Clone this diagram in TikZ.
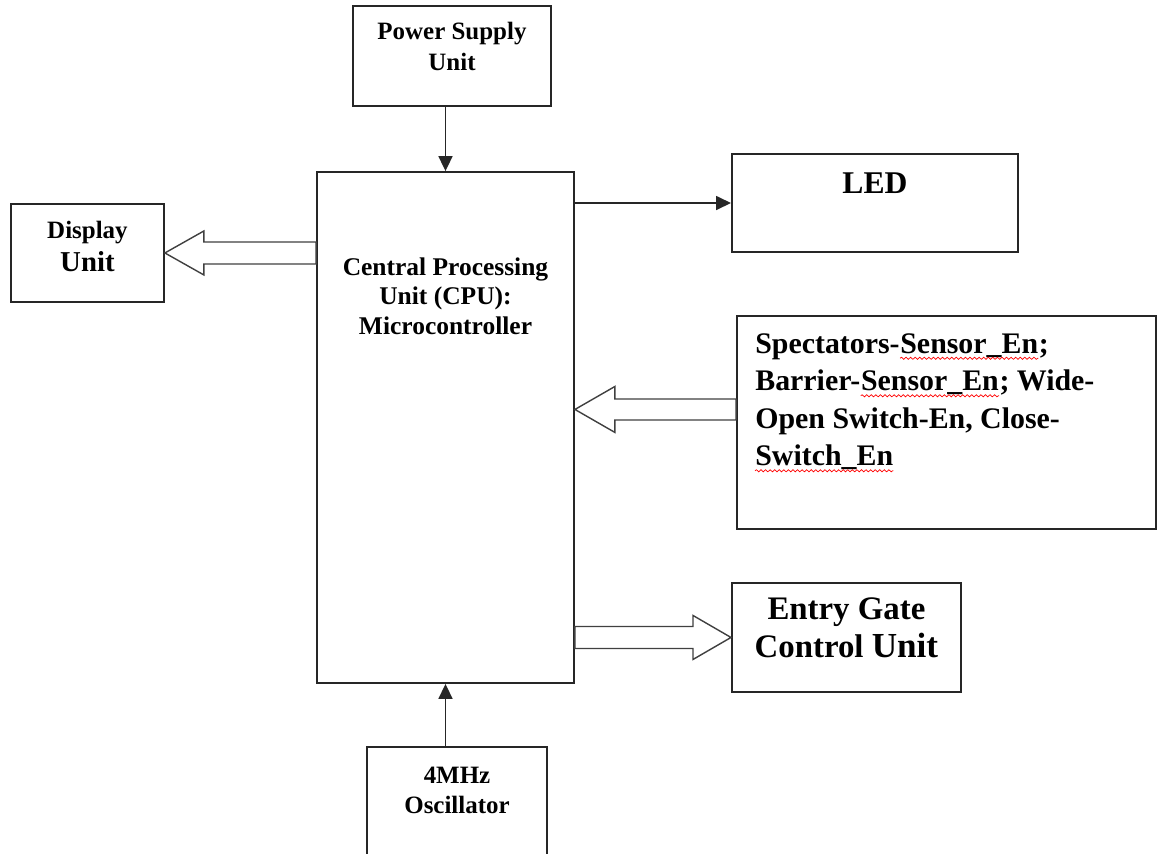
\documentclass[tikz,border=0pt]{standalone}
\usepackage{fontspec}
\setmainfont{Liberation Serif}
\usetikzlibrary{arrows.meta, positioning, calc, decorations.pathmorphing}

\begin{document}
\begin{tikzpicture}[
    x=0.02cm, y=-0.02cm,
    box/.style={rectangle, draw=black!85, line width=1.1pt, inner sep=0pt},
    boxtext/.style={inner sep=0pt, align=center, font=\bfseries\fontsize{14.2}{17.5}\selectfont},
    senstext/.style={inner sep=0pt, anchor=base west, font=\bfseries\fontsize{17}{21.5}\selectfont},
    spellwave/.style={red, line width=0.4pt, decorate, decoration={snake, amplitude=0.6pt, segment length=2.6pt}},
    arrow/.style={-{Triangle[length=0.3cm, width=0.28cm]}, line width=1pt, black!85},
    hollow/.style={draw=black!75, line width=0.8pt, fill=white}
]
    \useasboundingbox (0,0) rectangle (1157,853);

    % boxes
    \node[box, minimum width=5.14cm, minimum height=10.22cm] (cpu) at (445.5,427.5) {};
    \node[box, minimum width=3.96cm, minimum height=2cm, above=1.28cm of cpu, xshift=0.13cm] (power) {};
    \node[box, minimum width=3.6cm, minimum height=2.4cm, below=1.24cm of cpu, xshift=0.23cm] (osc) {};
    \node[box, minimum width=3.06cm, minimum height=1.96cm, anchor=north west] (disp) at (10,203) {};
    \node[box, minimum width=5.72cm, minimum height=1.96cm, anchor=north west] (led) at (731,153) {};
    \node[box, minimum width=8.38cm, minimum height=4.26cm, anchor=north west] (sens) at (736,315) {};
    \node[box, minimum width=4.58cm, minimum height=2.18cm, anchor=north west] (gate) at (731,582) {};

    % texts
    \node[boxtext, below=0.34cm of power.north] (power-text) {Power Supply\\Unit};
    \node[boxtext, font=\bfseries\fontsize{14.2}{18.7}\selectfont, below=0.36cm of disp.north] (disp-text)
        {Display\\{\fontsize{16.4}{18.7}\selectfont Unit}};
    \node[boxtext, font=\bfseries\fontsize{14.5}{17}\selectfont, below=1.72cm of cpu.north] (cpu-text)
        {Central Processing\\Unit (CPU):\\Microcontroller};
    \node[boxtext, font=\bfseries\fontsize{18}{21}\selectfont, below=0.38cm of led.north] (led-text) {LED};
    \node[boxtext, font=\bfseries\fontsize{18.7}{22}\selectfont, below=0.3cm of gate.north] (gate-text)
        {Entry Gate\\Control {\fontsize{20}{22}\selectfont Unit}};
    \node[boxtext, font=\bfseries\fontsize{14.2}{17}\selectfont, below=0.42cm of osc.north] (osc-text)
        {4MHz\\Oscillator};

    % sensor lines
    \node[senstext] (sens-l1a) at ($(sens.north west)+(19,38)$) {Spectators-};
    \node[senstext] (sens-l1b) at (sens-l1a.base east) {Sensor\_En};
    \node[senstext] (sens-l1c) at (sens-l1b.base east) {;};
    \node[senstext] (sens-l2a) at ($(sens-l1a.base west)+(0,37.5)$) {Barrier-};
    \node[senstext] (sens-l2b) at (sens-l2a.base east) {Sensor\_En};
    \node[senstext] (sens-l2c) at (sens-l2b.base east) {; Wide-};
    \node[senstext] (sens-l3) at ($(sens-l2a.base west)+(0,37.5)$) {Open Switch-En, Close-};
    \node[senstext] (sens-l4) at ($(sens-l3.base west)+(0,37.5)$) {Switch\_En};
    \draw[spellwave] ([yshift=-3pt]sens-l1b.base west) -- ([yshift=-3pt]sens-l1b.base east);
    \draw[spellwave] ([yshift=-3pt]sens-l2b.base west) -- ([yshift=-3pt]sens-l2b.base east);
    \draw[spellwave] ([yshift=-3pt]sens-l4.base west) -- ([yshift=-3pt]sens-l4.base east);

    % plain arrows
    \draw[arrow] (cpu.north |- power.south) -- (cpu.north);
    \draw[arrow] (cpu.south |- osc.north) -- (cpu.south);
    \draw[arrow] (cpu.east |- 0,203) -- (led.west |- 0,203);

    % hollow block arrows
    \coordinate (disp-tail) at (cpu.west |- disp.east);
    \draw[hollow] ($(disp-tail)+(0,-11)$) -- ($(disp.east)+(39,-11)$) -- ($(disp.east)+(39,-22)$)
        -- (disp.east) -- ($(disp.east)+(39,22)$) -- ($(disp.east)+(39,11)$) -- ($(disp-tail)+(0,11)$) -- cycle;

    \coordinate (sens-tail) at ([yshift=0.26cm]sens.west);
    \coordinate (sens-tip) at (cpu.east |- sens-tail);
    \draw[hollow] ($(sens-tail)+(0,-10.5)$) -- ($(sens-tip)+(40,-10.5)$) -- ($(sens-tip)+(40,-23)$)
        -- (sens-tip) -- ($(sens-tip)+(40,23)$) -- ($(sens-tip)+(40,10.5)$) -- ($(sens-tail)+(0,10.5)$) -- cycle;

    \coordinate (gate-tail) at (cpu.east |- gate.west);
    \draw[hollow] ($(gate-tail)+(0,-11)$) -- ($(gate.west)+(-38,-11)$) -- ($(gate.west)+(-38,-22)$)
        -- (gate.west) -- ($(gate.west)+(-38,22)$) -- ($(gate.west)+(-38,11)$) -- ($(gate-tail)+(0,11)$) -- cycle;
\end{tikzpicture}
\end{document}
